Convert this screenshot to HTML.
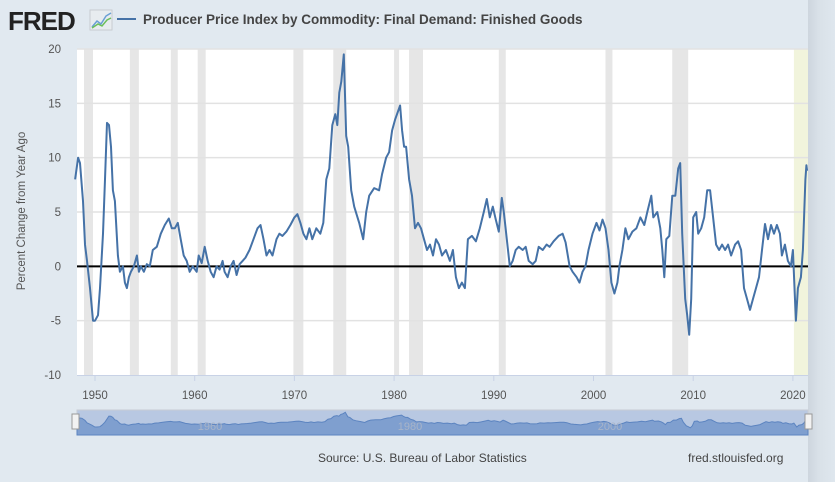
<!DOCTYPE html>
<html><head><meta charset="utf-8">
<style>
body{margin:0;width:835px;height:482px;background:#e1e9f0;font-family:"Liberation Sans",sans-serif;overflow:hidden;position:relative}
</style></head>
<body>
<svg width="835" height="482" style="position:absolute;left:0;top:0">
<defs><linearGradient id="rg" x1="0" x2="1"><stop offset="0" stop-color="#cdd5de"/><stop offset="0.4" stop-color="#d9e1e8"/><stop offset="1" stop-color="#dfe7ee"/></linearGradient></defs>
<rect x="808" y="0" width="27" height="482" fill="url(#rg)"/>
<text x="8" y="30" font-size="26" font-weight="bold" fill="#222" letter-spacing="-1">FRED</text>
<g>
<rect x="90" y="10" width="22" height="20" fill="#e8ecef" stroke="#c8ccd0"/>
<polyline points="92,27 97,21 101,24 106,16 111,13" fill="none" stroke="#6a9fd4" stroke-width="1.5"/>
<polyline points="92,28 98,24 102,26 107,20 111,18" fill="none" stroke="#6cbf5a" stroke-width="1.5"/>
</g>
<line x1="117" y1="19" x2="136" y2="19" stroke="#4572a7" stroke-width="2"/>
<text x="143" y="24" font-size="13.5" font-weight="bold" fill="#444">Producer Price Index by Commodity: Final Demand: Finished Goods</text>
<rect x="77" y="49" width="731" height="326" fill="#fff"/>
<g id="rec"></g>
<g id="grid"></g>
<g id="yt"></g>
<g id="xt"></g>
<text transform="translate(25,211) rotate(-90)" text-anchor="middle" font-size="11.5" fill="#555">Percent Change from Year Ago</text>
<path id="line" fill="none" stroke="#4572a7" stroke-width="2" stroke-linejoin="round"/>
<g>
<rect x="77" y="410" width="731" height="25" fill="#b8c8e2" stroke="#c8ccd4"/>
<path id="nav" fill="#7f9fcf" stroke="#5c84c0" stroke-width="1"/>
<text x="210" y="430" font-size="11" fill="#a8b4c8" text-anchor="middle">1960</text>
<text x="410" y="430" font-size="11" fill="#a8b4c8" text-anchor="middle">1980</text>
<text x="610" y="430" font-size="11" fill="#a8b4c8" text-anchor="middle">2000</text>
<rect x="72" y="414" width="7" height="15" fill="#f2f2f2" stroke="#999"/>
<rect x="805" y="414" width="7" height="15" fill="#f2f2f2" stroke="#999"/>
</g>
<text x="318" y="462" font-size="12" fill="#444">Source: U.S. Bureau of Labor Statistics</text>
<text x="688" y="462" font-size="12" fill="#444">fred.stlouisfed.org</text>
</svg>
<script>
const years=[1948.0,1948.3,1948.5,1948.8,1949.0,1949.2,1949.5,1949.8,1950.0,1950.3,1950.5,1950.8,1951.0,1951.2,1951.4,1951.6,1951.8,1952.0,1952.3,1952.5,1952.8,1953.0,1953.2,1953.4,1953.6,1953.9,1954.2,1954.4,1954.6,1954.9,1955.2,1955.5,1955.8,1956.2,1956.6,1957.0,1957.4,1957.7,1958.0,1958.3,1958.6,1958.9,1959.2,1959.5,1959.8,1960.2,1960.4,1960.7,1961.0,1961.3,1961.6,1961.9,1962.2,1962.5,1962.8,1963.0,1963.3,1963.6,1963.9,1964.2,1964.5,1964.8,1965.1,1965.5,1965.9,1966.3,1966.6,1966.9,1967.2,1967.5,1967.8,1968.2,1968.5,1968.8,1969.2,1969.6,1970.0,1970.3,1970.6,1970.9,1971.2,1971.5,1971.8,1972.2,1972.6,1972.9,1973.2,1973.5,1973.8,1974.1,1974.3,1974.5,1974.7,1974.95,1975.2,1975.4,1975.7,1976.0,1976.5,1976.9,1977.2,1977.5,1978.0,1978.5,1978.8,1979.2,1979.5,1979.8,1980.1,1980.6,1980.8,1981.0,1981.2,1981.5,1981.8,1982.1,1982.4,1982.7,1983.0,1983.3,1983.6,1983.9,1984.2,1984.5,1984.8,1985.2,1985.6,1985.9,1986.2,1986.5,1986.8,1987.1,1987.4,1987.8,1988.2,1988.6,1989.0,1989.3,1989.6,1989.9,1990.2,1990.5,1990.8,1991.0,1991.3,1991.6,1991.9,1992.2,1992.5,1992.9,1993.2,1993.5,1993.9,1994.2,1994.5,1994.9,1995.3,1995.6,1996.0,1996.5,1996.9,1997.2,1997.6,1997.9,1998.3,1998.6,1998.9,1999.2,1999.5,1999.9,2000.3,2000.6,2000.9,2001.2,2001.5,2001.8,2002.1,2002.4,2002.6,2002.9,2003.2,2003.5,2003.9,2004.3,2004.7,2005.1,2005.4,2005.8,2006.0,2006.4,2006.7,2006.9,2007.1,2007.3,2007.6,2007.9,2008.2,2008.5,2008.7,2008.9,2009.2,2009.4,2009.6,2009.8,2010.0,2010.3,2010.5,2010.8,2011.1,2011.4,2011.7,2012.0,2012.3,2012.6,2012.9,2013.2,2013.5,2013.8,2014.2,2014.5,2014.8,2015.1,2015.4,2015.7,2016.0,2016.3,2016.6,2016.9,2017.2,2017.5,2017.8,2018.1,2018.4,2018.7,2018.9,2019.2,2019.5,2019.8,2020.0,2020.3,2020.5,2020.8,2021.0,2021.25,2021.35,2021.42];
const values=[8,10,9.5,6,2,0.5,-2,-5,-5,-4.5,-2,3,8,13.2,13,11,7,6,1,-0.5,0,-1.5,-2,-1,-0.5,0,1,-0.5,0,-0.5,0.2,0,1.5,1.8,3,3.8,4.4,3.5,3.5,4,2.5,1,0.5,-0.5,0,-0.5,1,0.3,1.8,0.5,-0.5,-1,0,-0.3,0.5,-0.5,-1,0,0.5,-0.8,0.2,0.5,0.8,1.5,2.5,3.5,3.8,2.5,1,1.5,1,2.5,3,2.8,3.2,3.8,4.5,4.8,4,3,2.5,3.5,2.5,3.5,3,4,8,9,13,14,13,16,17,19.5,12,11,7,5.5,4,2.5,5,6.5,7.2,7,8.5,10,10.5,12.5,13.5,14.8,12.5,11,11,8,6.5,3.5,4,3.5,2.5,1.5,2,1,2.5,2,1,1.5,0.5,1.5,-1,-2,-1.5,-2,2.5,2.8,2.3,3.5,5,6.2,4.5,5.5,4.3,3.2,6.3,5,2.5,0,0.5,1.5,1.8,1.5,1.8,0.5,0.2,0.5,1.8,1.5,2,1.8,2.3,2.8,3,2.2,0,-0.5,-1,-1.5,-0.5,0,1.5,3,4,3.3,4.3,3.5,1.5,-1.5,-2.5,-1.5,0,1.5,3.5,2.5,3.2,3.5,4.5,3.8,5,6.5,4.5,5,3.5,1.5,-1,2.5,2.8,6.5,6.5,9,9.5,3,-3,-4.5,-6.3,-3,4.5,5,3,3.5,4.5,7,7,4.5,2,1.5,2,1.5,2,1,2,2.3,1.5,-2,-3,-4,-3,-2,-1,1.5,3.9,2.5,3.8,3,3.8,3,1,2,0.5,0,1.5,-5,-2,-1,1.5,8,9.3,8.8];
const yTicks=[20,15,10,5,0,-5,-10];
const xTicks=[1950,1960,1970,1980,1990,2000,2010,2020];
const recStart=[1948.9,1953.5,1957.6,1960.3,1969.9,1973.9,1980.0,1981.5,1990.5,2001.2,2007.9];
const recEnd=[1949.8,1954.4,1958.3,1961.1,1970.9,1975.2,1980.5,1982.9,1991.2,2001.9,2009.5];
const NS='http://www.w3.org/2000/svg';
const X0=77,X1=808,Y0=49,Y1=375;
const xS=y=>95+(y-1950)*9.97;
const yS=v=>Y0+(20-v)*(Y1-Y0)/30;
function mk(tag,attrs,parent){const e=document.createElementNS(NS,tag);for(const k in attrs)e.setAttribute(k,attrs[k]);document.getElementById(parent).appendChild(e);return e;}
recStart.forEach((s,i)=>{const e=mk('rect',{x:xS(s),y:Y0,width:xS(recEnd[i])-xS(s),height:Y1-Y0,fill:'#e6e6e6'},'rec');

});
const cy=mk('rect',{x:xS(2020.1),y:Y0,width:X1-xS(2020.1),height:Y1-Y0,fill:'#f1f4dc'},'rec');


yTicks.forEach(v=>{
 if(v!==0&&v!==-10){const g=mk('line',{x1:X0,x2:X1,y1:yS(v),y2:yS(v),stroke:'#e2e2e2','stroke-width':1.5},'grid');
 
 }
 const t=mk('text',{x:61,y:yS(v)+4,'text-anchor':'end','font-size':11.5,fill:'#555'},'yt');t.textContent=v;
 
 
});
const zl=mk('line',{x1:X0,x2:X1,y1:yS(0),y2:yS(0),stroke:'#000','stroke-width':2},'grid');


const ax=mk('line',{x1:X0,x2:X1,y1:Y1+0.5,y2:Y1+0.5,stroke:'#c8d2e6','stroke-width':1},'grid');


xTicks.forEach(y=>{
 const tk=mk('line',{x1:xS(y),x2:xS(y),y1:Y1,y2:Y1+6,stroke:'#c8d2e6'},'xt');
 
 
 const t=mk('text',{x:xS(y),y:399,'text-anchor':'middle','font-size':11.5,fill:'#555'},'xt');t.textContent=y;
 
 
});
document.getElementById('line').setAttribute('d',years.map((y,i)=>(i?'L':'M')+xS(y).toFixed(1)+','+yS(values[i]).toFixed(1)).join(''));
const nx=y=>X0+(y-1948)*(X1-X0)/(2021.42-1948);
const ny=v=>424-v*0.6;
document.getElementById('nav').setAttribute('d','M'+X0+',435'+years.map((y,i)=>'L'+nx(y).toFixed(1)+','+ny(values[i]).toFixed(1)).join('')+'L'+X1+',435Z');
</script>
</body></html>
